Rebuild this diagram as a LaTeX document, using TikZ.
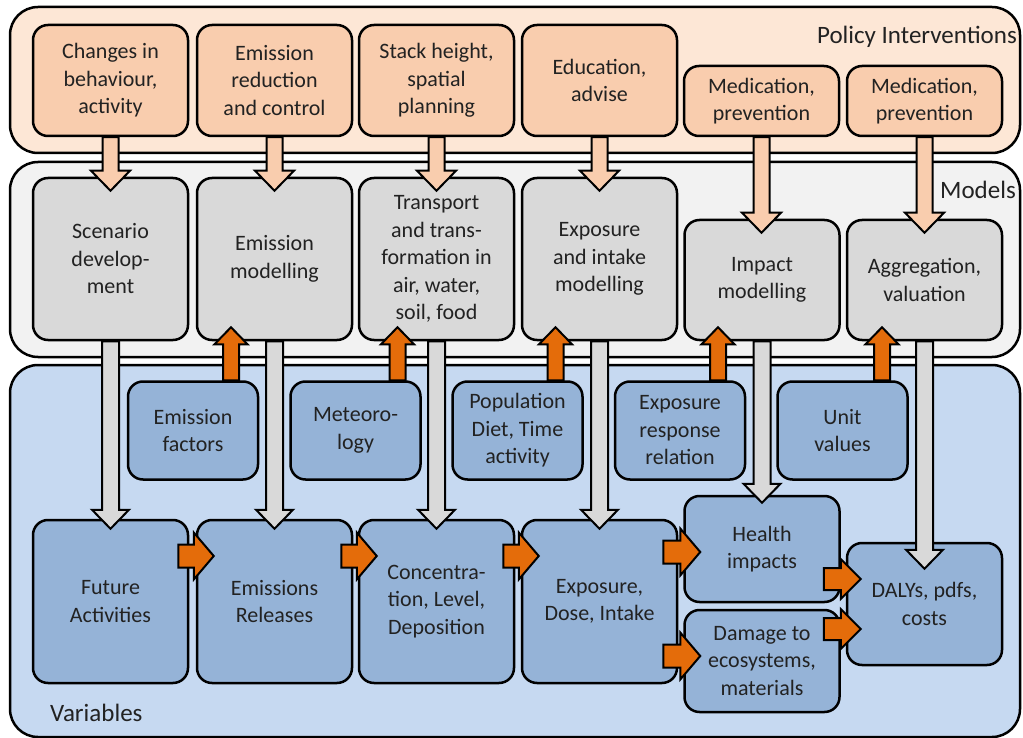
\documentclass[tikz,border=0pt]{standalone}
\usepackage{fontspec}
\setmainfont{Carlito}
\usetikzlibrary{calc}

\definecolor{polpanel}{HTML}{FDE7D6}
\definecolor{polbox}{HTML}{F9CDAE}
\definecolor{modpanel}{HTML}{F2F2F2}
\definecolor{modbox}{HTML}{D9D9D9}
\definecolor{varpanel}{HTML}{C6D9F1}
\definecolor{varbox}{HTML}{95B3D7}
\definecolor{flow}{HTML}{E46C0A}
\definecolor{ink}{HTML}{222222}

% block arrows: #1 style, #2 start, #3 tip, #4 half shaft, #5 half head, #6 head length (pt)
\newcommand\blockdown[6]{\path[#1] let \p1=#2, \p2=#3 in
  (\x1-#4pt,\y1) -- (\x1-#4pt,\y2+#6pt) -- (\x1-#5pt,\y2+#6pt) -- (\x1,\y2)
  -- (\x1+#5pt,\y2+#6pt) -- (\x1+#4pt,\y2+#6pt) -- (\x1+#4pt,\y1) -- cycle;}
\newcommand\blockup[6]{\path[#1] let \p1=#2, \p2=#3 in
  (\x1-#4pt,\y1) -- (\x1-#4pt,\y2-#6pt) -- (\x1-#5pt,\y2-#6pt) -- (\x1,\y2)
  -- (\x1+#5pt,\y2-#6pt) -- (\x1+#4pt,\y2-#6pt) -- (\x1+#4pt,\y1) -- cycle;}
\newcommand\blockright[6]{\path[#1] let \p1=#2, \p2=#3 in
  (\x1,\y1-#4pt) -- (\x2-#6pt,\y1-#4pt) -- (\x2-#6pt,\y1-#5pt) -- (\x2,\y1)
  -- (\x2-#6pt,\y1+#5pt) -- (\x2-#6pt,\y1+#4pt) -- (\x1,\y1+#4pt) -- cycle;}

\tikzset{
  panel/.style={draw=black, line width=2.5pt, rounded corners=28pt, inner sep=0pt},
  box/.style={draw=black, line width=2.5pt, rounded corners=15pt, align=center,
    text=ink, inner sep=2pt, font=\fontsize{22}{27.5}\selectfont},
  polnode/.style={box, fill=polbox, minimum width=155pt},
  modnode/.style={box, fill=modbox, minimum width=155pt},
  varnode/.style={box, fill=varbox, minimum width=130pt, minimum height=98pt},
  outnode/.style={box, fill=varbox, minimum width=155pt},
  lbl/.style={text=ink, inner sep=0pt, font=\fontsize{25}{30}\selectfont},
  peacharrow/.style={fill=polbox, draw=black, line width=2pt, line join=miter},
  greyarrow/.style={fill=modbox, draw=black, line width=2pt, line join=miter},
  flowarrow/.style={fill=flow, draw=black, line width=2pt, line join=miter},
}

\begin{document}
\begin{tikzpicture}[x=1pt,y=-1pt]
\useasboundingbox (0,0) rectangle (1023,738);
\fill[white] (0,0) rectangle (1023,738);
\clip (0,0) rectangle (1023,738);

% three layers
\node[panel, fill=polpanel, minimum width=1010pt, minimum height=146pt] (polpanel) at (515,80) {};
\node[panel, fill=modpanel, minimum width=1010pt, minimum height=195pt] (modpanel) at (515,259.5) {};
\node[panel, fill=varpanel, minimum width=1010pt, minimum height=372pt] (varpanel) at (515,551) {};

\node[lbl, anchor=east] (pollbl) at (1017,37) {Policy Interventions};
\node[lbl, anchor=east] (modlbl) at (1016,190) {Models};
\node[lbl, anchor=west] (varlbl) at (50,713) {Variables};

% policy interventions
\node[polnode, minimum height=111pt] (p1) at (110.5,80.5) {Changes in\\behaviour,\\activity};
\node[polnode, minimum height=111pt] (p2) at (274.5,80.5) {Emission\\reduction\\and control};
\node[polnode, minimum height=111pt] (p3) at (436.5,80.5) {Stack height,\\spatial\\planning};
\node[polnode, minimum height=111pt] (p4) at (599.5,80.5) {Education,\\advise};
\node[polnode, minimum height=70pt] (p5) at (761.5,101) {Medication,\\prevention};
\node[polnode, minimum height=70pt] (p6) at (924.5,101) {Medication,\\prevention};

% models
\node[modnode, minimum height=162pt] (m1) at (110.5,259) {Scenario\\develop-\\ment};
\node[modnode, minimum height=162pt] (m2) at (274.5,259) {Emission\\modelling};
\node[modnode, minimum height=162pt] (m3) at (436.5,259) {Transport\\and trans-\\formation in\\air, water,\\soil, food};
\node[modnode, minimum height=162pt] (m4) at (599.5,259) {Exposure\\and intake\\modelling};
\node[modnode, minimum height=120pt] (m5) at (762,280) {Impact\\modelling};
\node[modnode, minimum height=120pt] (m6) at (924.5,280) {Aggregation,\\valuation};

% input variables
\node[varnode] (ef) at (193,430.5) {Emission\\factors};
\node[varnode] (met) at (355.5,430.5) {Meteoro-\\logy};
\node[varnode] (pop) at (517.5,430.5) {Population\\Diet, Time\\activity};
\node[varnode] (err) at (680,430.5) {Exposure\\response\\relation};
\node[varnode] (uv) at (842.5,430.5) {Unit\\values};

% chain of variables
\node[outnode, minimum height=163pt] (fa) at (110.5,601.5) {Future\\Activities};
\node[outnode, minimum height=163pt] (er) at (274.5,601.5) {Emissions\\Releases};
\node[outnode, minimum height=163pt] (cld) at (436.5,601.5) {Concentra-\\tion, Level,\\Deposition};
\node[outnode, minimum height=163pt] (edi) at (599.5,601.5) {Exposure,\\Dose, Intake};
\node[outnode, minimum height=106pt] (hi) at (762,549) {Health\\impacts};
\node[outnode, minimum height=102pt] (dem) at (762,661) {Damage to\\ecosystems,\\materials};
\node[outnode, minimum height=122pt] (daly) at (924.5,604) {DALYs, pdfs,\\costs};

% interventions acting on models
\blockdown{peacharrow}{(p1.south)}{([yshift=-14pt]m1.north)}{8}{19.5}{20}
\blockdown{peacharrow}{(p2.south)}{([yshift=-14pt]m2.north)}{8}{19.5}{20}
\blockdown{peacharrow}{(p3.south)}{([yshift=-14pt]m3.north)}{8}{19.5}{20}
\blockdown{peacharrow}{(p4.south)}{([yshift=-14pt]m4.north)}{8}{19.5}{20}
\blockdown{peacharrow}{(p5.south)}{([yshift=-14pt]m5.north)}{8}{19.5}{20}
\blockdown{peacharrow}{(p6.south)}{([yshift=-14pt]m6.north)}{8}{19.5}{20}

% models producing variables
\blockdown{greyarrow}{(m1.south)}{([yshift=-10pt]fa.north)}{8.5}{18.5}{19}
\blockdown{greyarrow}{(m2.south)}{([yshift=-10pt]er.north)}{8.5}{18.5}{19}
\blockdown{greyarrow}{(m3.south)}{([yshift=-10pt]cld.north)}{8.5}{18.5}{19}
\blockdown{greyarrow}{(m4.south)}{([yshift=-10pt]edi.north)}{8.5}{18.5}{19}
\blockdown{greyarrow}{(m5.south)}{([yshift=-8pt]hi.north)}{8.5}{18.5}{19}
\blockdown{greyarrow}{(m6.south)}{([yshift=-27pt]daly.north)}{8.5}{18.5}{19}

% input data feeding the models
\blockup{flowarrow}{([xshift=38pt]ef.north)}{([yshift=14pt]m2.south)}{8}{16.5}{17}
\blockup{flowarrow}{([xshift=42pt]met.north)}{([yshift=14pt]m3.south)}{8}{16.5}{17}
\blockup{flowarrow}{([xshift=38pt]pop.north)}{([yshift=14pt]m4.south)}{8}{16.5}{17}
\blockup{flowarrow}{([xshift=38pt]err.north)}{([yshift=14pt]m5.south)}{8}{16.5}{17}
\blockup{flowarrow}{([xshift=39.5pt]uv.north)}{([yshift=14pt]m6.south)}{8}{16.5}{17}

% causal chain
\blockright{flowarrow}{([xshift=-11pt]fa.east |- 0,556)}{([xshift=18pt]er.west)}{11.5}{23.5}{20}
\blockright{flowarrow}{([xshift=-12pt]er.east |- 0,556)}{([xshift=19pt]cld.west)}{11.5}{23.5}{20}
\blockright{flowarrow}{([xshift=-12pt]cld.east |- 0,556)}{([xshift=18pt]edi.west)}{11.5}{23.5}{20}
\blockright{flowarrow}{([xshift=-15pt]edi.east |- 0,552)}{([xshift=17pt]hi.west)}{11.5}{23.5}{20}
\blockright{flowarrow}{([xshift=-15pt]edi.east |- 0,656)}{([xshift=17pt]dem.west)}{11.5}{23.5}{20}
\blockright{flowarrow}{([xshift=-17pt]hi.east |- 0,579)}{([xshift=15pt]daly.west)}{11}{20}{20}
\blockright{flowarrow}{([xshift=-17pt]dem.east |- 0,629)}{([xshift=15pt]daly.west)}{11}{20}{20}
\end{tikzpicture}
\end{document}
